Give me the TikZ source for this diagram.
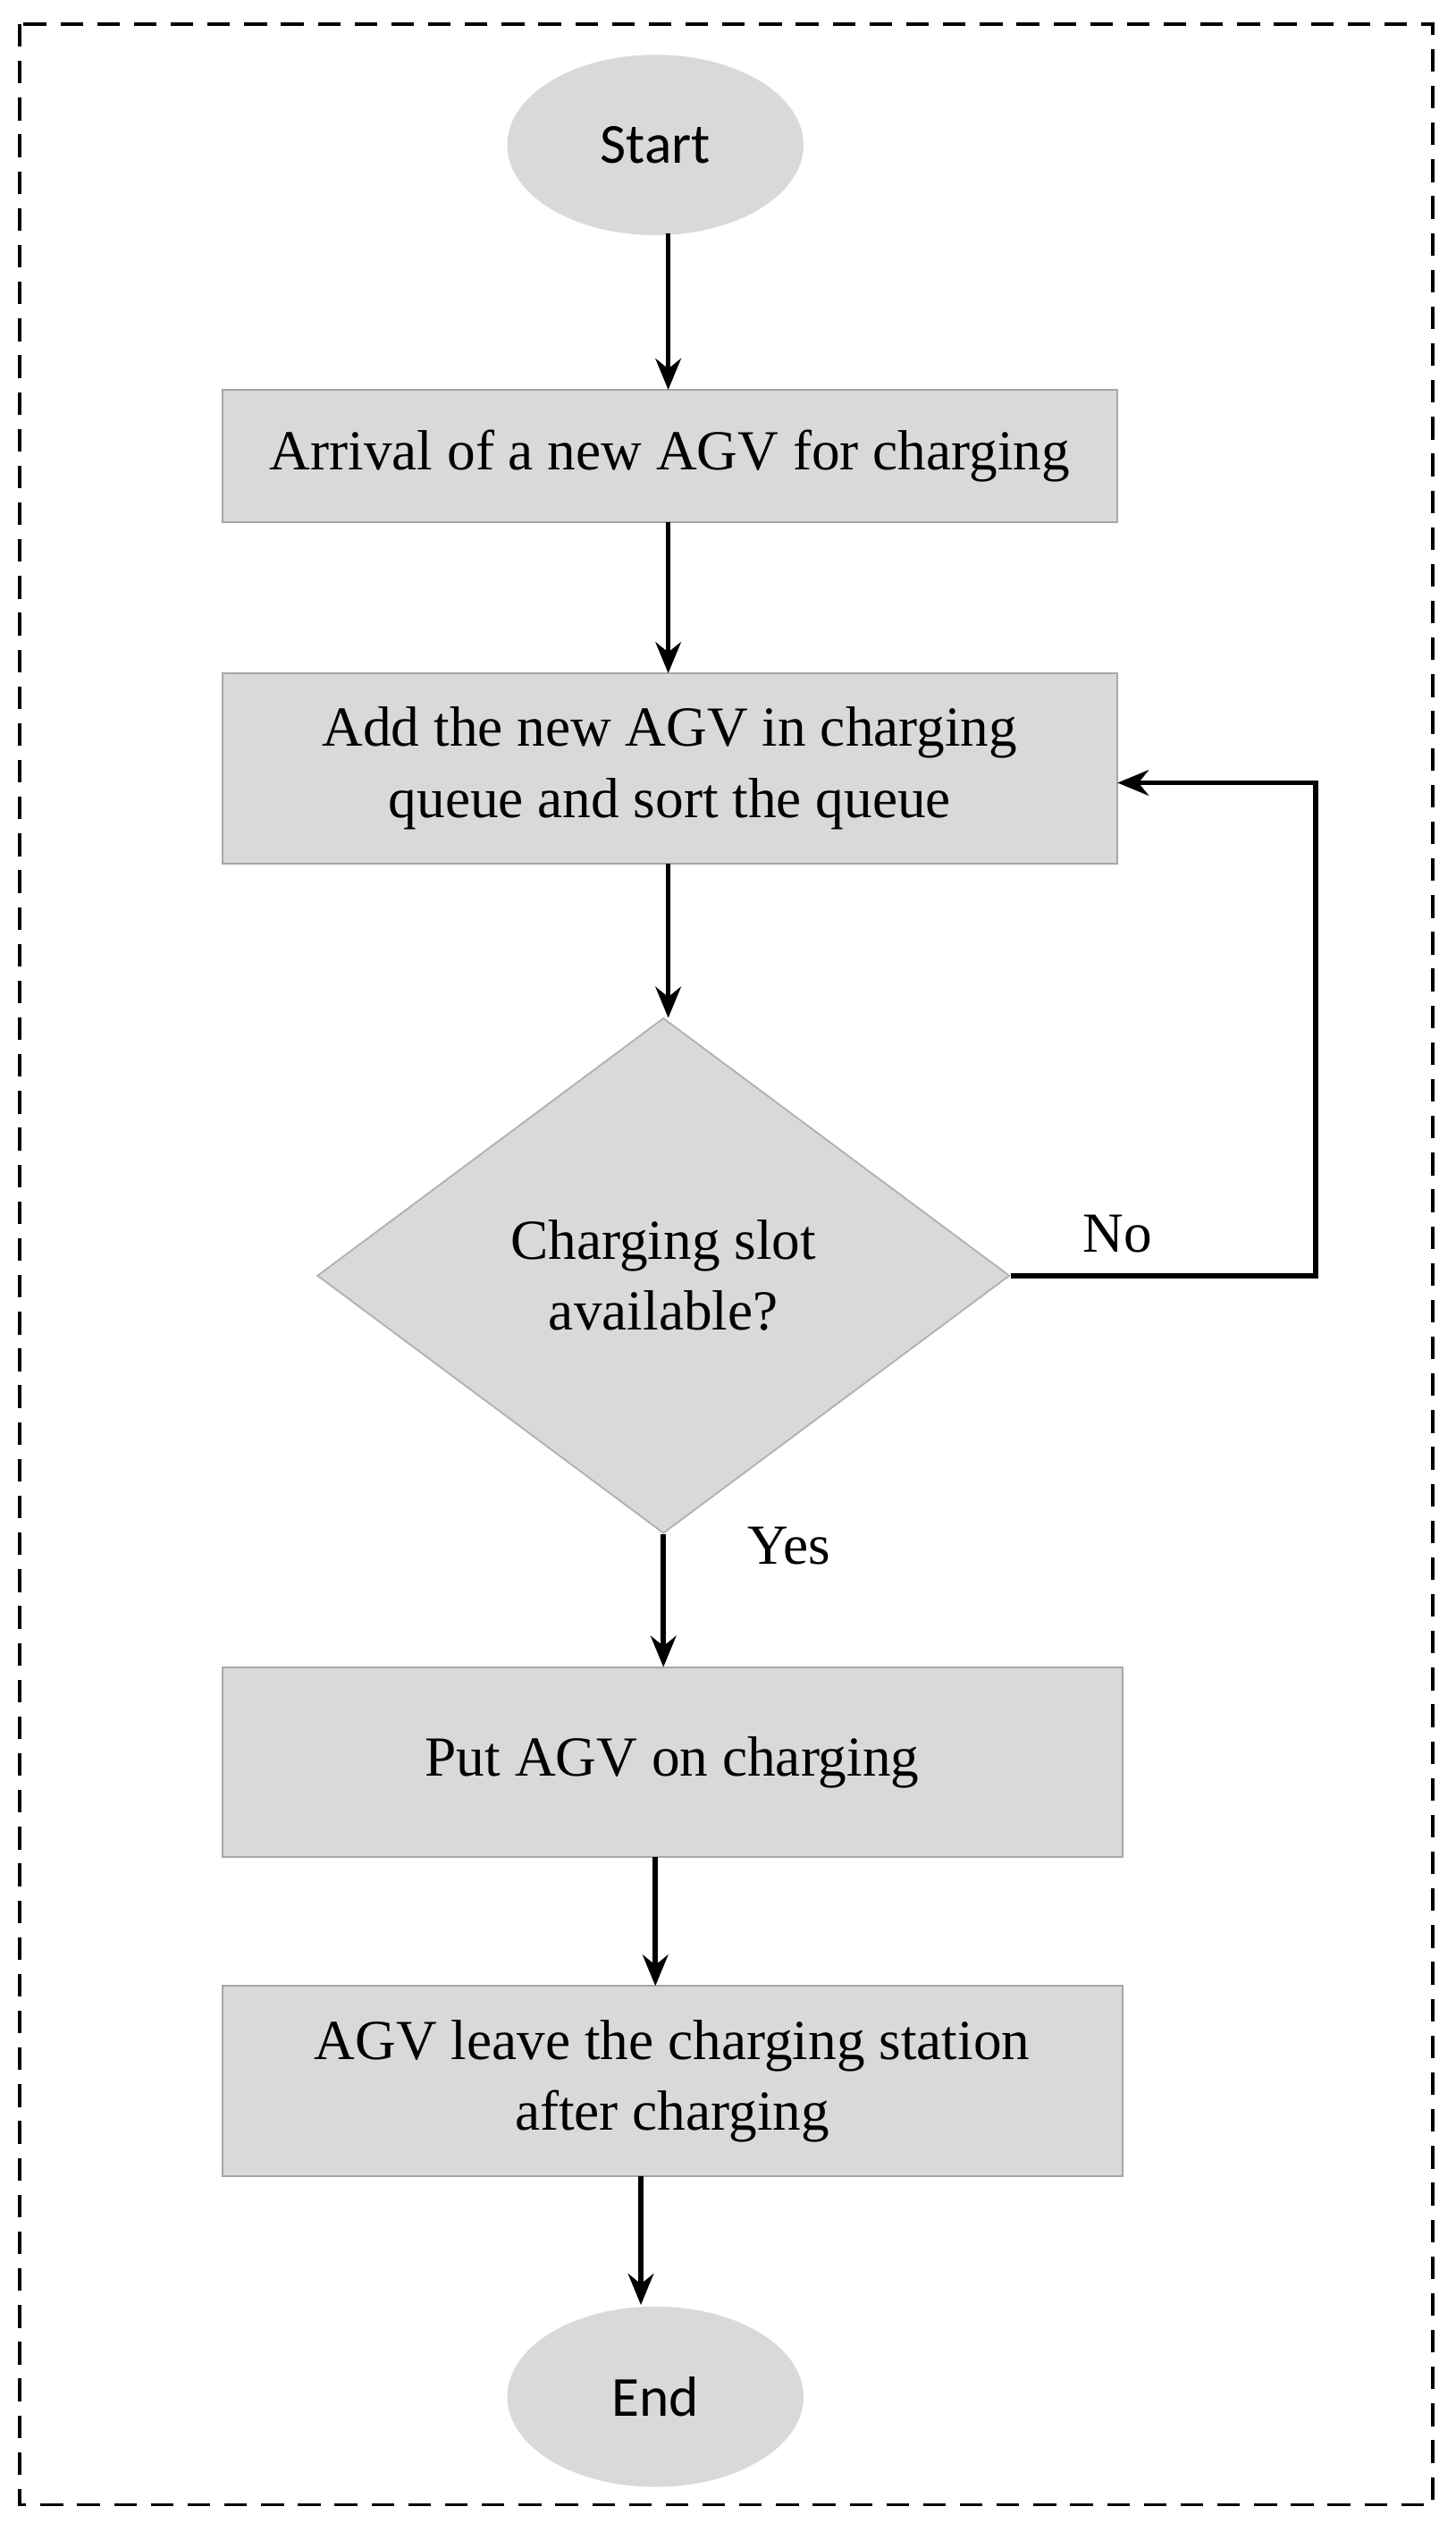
\documentclass[tikz,border=0pt]{standalone}
\usepackage{fontspec}
\setmainfont{Liberation Serif}
\newfontfamily\calib{Carlito}
\usetikzlibrary{shapes.geometric,arrows.meta}
\begin{document}
\begin{tikzpicture}[x=0.02cm,y=-0.02cm,
  box/.style={draw=gray!70,line width=0.6pt,fill={rgb,255:red,217;green,217;blue,217},font=\fontsize{20}{25}\selectfont,align=center,inner sep=0},
  term/.style={ellipse,fill={rgb,255:red,217;green,217;blue,217},font=\calib\fontsize{20}{24}\selectfont,minimum width=184*0.02cm,minimum height=112*0.02cm,inner sep=0},
  arr/.style={line width=1.8pt,-{Stealth[length=11pt,width=9pt]}},
  lbl/.style={font=\fontsize{20}{24}\selectfont}]
\useasboundingbox (0,0) rectangle (904,1572);
\draw[dashed,line width=1.2pt,dash pattern=on 8pt off 5pt] (12,15) rectangle (890,1555);
\node[term] (start) at (407,90) {Start};
\node[box,minimum width=556*0.02cm,minimum height=82*0.02cm] (b1) at (416,283) {Arrival of a new AGV for charging};
\node[box,minimum width=556*0.02cm,minimum height=118*0.02cm] (b2) at (416,477) {Add the new AGV in charging\\queue and sort the queue};
\node[diamond,draw=gray!60,line width=0.6pt,fill={rgb,255:red,217;green,217;blue,217},minimum width=430*0.02cm,minimum height=320*0.02cm,inner sep=0,font=\fontsize{20}{25}\selectfont,align=center] (d) at (412,792) {Charging slot\\available?};
\node[box,minimum width=559*0.02cm,minimum height=118*0.02cm] (b3) at (417.5,1094) {Put AGV on charging};
\node[box,minimum width=559*0.02cm,minimum height=118*0.02cm] (b4) at (417.5,1292) {AGV leave the charging station\\after charging};
\node[term] (end) at (407,1488) {End};
\draw[arr] (415,145) -- (415,242);
\draw[arr] (415,324) -- (415,418);
\draw[arr] (415,536) -- (415,632);
\draw[arr] (d.south) -- (412,1035);
\draw[arr] (407,1153) -- (407,1233);
\draw[arr] (398,1351) -- (398,1431);
\coordinate (c1) at (817,792);
\coordinate (c2) at (817,486);
\draw[arr] (d.east) -- (c1) -- (c2) -- (694,486);
\node[lbl] (no) at (694,766) {No};
\node[lbl] (yes) at (490,960) {Yes};
\end{tikzpicture}
\end{document}
